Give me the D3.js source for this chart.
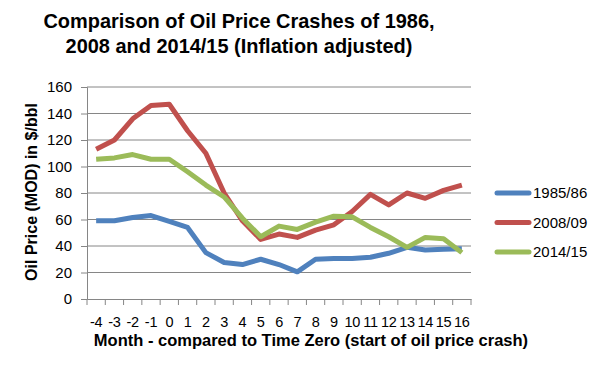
<!DOCTYPE html>
<html>
<head>
<meta charset="utf-8">
<script src="https://cdn.jsdelivr.net/npm/d3@7"></script>
<style>
  body { margin: 0; background: #fff; }
  svg { font-family: "Liberation Sans", Arial, sans-serif; }
</style>
</head>
<body>
<svg id="chart"></svg>
<script>
// data
const months = [-4, -3, -2, -1, 0, 1, 2, 3, 4, 5, 6, 7, 8, 9, 10, 11, 12, 13, 14, 15, 16];
const crash1986 = [59, 59, 61.5, 63, 58.5, 54, 35, 27.5, 26, 30, 26, 20.5, 30, 30.5, 30.5, 31.5, 34.5, 39, 37, 37.5, 38];
const crash2008 = [113, 120, 136, 146, 147, 127, 110, 80, 59, 45, 49, 46.5, 52, 56, 66, 79, 71, 80, 76, 82, 86];
const crash2014 = [105.5, 106.5, 109, 105.5, 105.5, 96, 86, 77, 61, 47, 55, 52.5, 58, 62.5, 62, 54, 47, 39, 46.5, 45.5, 35];
const seriesNames = ["1985/86", "2008/09", "2014/15"];
const seriesColors = ["#4f81bd", "#c0504d", "#9bbb59"];
const yTicks = [0, 20, 40, 60, 80, 100, 120, 140, 160];

const width = 607, height = 376;
const plot = { left: 87, right: 471, top: 87, bottom: 299 };

const svg = d3.select("#chart").attr("width", width).attr("height", height);

const x = d3.scaleBand().domain(months).range([plot.left, plot.right]);
const y = d3.scaleLinear().domain([0, 160]).range([plot.bottom, plot.top]);

// title
const title = svg.append("text")
  .attr("text-anchor", "middle")
  .attr("font-weight", "bold")
  .attr("font-size", "21px")
  .attr("transform", "translate(239,0) scale(0.95,1)")
  .attr("fill", "#000");
title.append("tspan").attr("x", 0).attr("y", 28).text("Comparison of Oil Price Crashes of 1986,");
title.append("tspan").attr("x", 0).attr("y", 53).text("2008 and 2014/15 (Inflation adjusted)");

// gridlines
svg.append("g")
  .selectAll("line")
  .data(yTicks.filter(d => d > 0))
  .join("line")
  .attr("x1", plot.left).attr("x2", plot.right)
  .attr("y1", d => y(d)).attr("y2", d => y(d))
  .attr("stroke", "#868686").attr("stroke-width", 1);

// y axis
const yAxis = svg.append("g")
  .attr("transform", `translate(${plot.left},0)`)
  .call(d3.axisLeft(y).tickValues(yTicks).tickSize(6).tickPadding(9));
yAxis.select(".domain").attr("stroke", "#868686");
yAxis.selectAll(".tick line").attr("stroke", "#868686");
yAxis.selectAll("text").attr("font-size", "15px").attr("fill", "#000")
  .attr("font-family", "'Liberation Sans', Arial, sans-serif");

// x axis
const xAxis = svg.append("g")
  .attr("transform", `translate(0,${plot.bottom})`)
  .call(d3.axisBottom(x).tickSize(0).tickPadding(18));
xAxis.select(".domain").attr("stroke", "#868686");
xAxis.selectAll("text").attr("font-size", "14.5px").attr("fill", "#000")
  .attr("letter-spacing", "-0.3px")
  .attr("font-family", "'Liberation Sans', Arial, sans-serif");
// category boundary ticks
svg.append("g")
  .selectAll("line")
  .data(months.concat([null]))
  .join("line")
  .attr("x1", (d, i) => plot.left + i * x.step())
  .attr("x2", (d, i) => plot.left + i * x.step())
  .attr("y1", plot.bottom).attr("y2", plot.bottom + 6)
  .attr("stroke", "#868686");

// axis titles
svg.append("text")
  .attr("x", 311).attr("y", 346)
  .attr("text-anchor", "middle")
  .attr("font-weight", "bold").attr("font-size", "16.5px")
  .text("Month - compared to Time Zero (start of oil price crash)");

svg.append("text")
  .attr("transform", "translate(37,192) rotate(-90)")
  .attr("text-anchor", "middle")
  .attr("font-weight", "bold").attr("font-size", "16px")
  .text("Oil Price (MOD) in $/bbl");

// lines
const line = d3.line()
  .x((d, i) => x(months[i]) + x.bandwidth() / 2)
  .y(d => y(d));

[crash1986, crash2008, crash2014].forEach((vals, k) => {
  svg.append("path")
    .datum(vals)
    .attr("d", line)
    .attr("fill", "none")
    .attr("stroke", seriesColors[k])
    .attr("stroke-width", 5)
    .attr("stroke-linejoin", "round");
});

// legend
const legend = svg.append("g")
  .selectAll("g")
  .data(seriesNames)
  .join("g")
  .attr("transform", (d, i) => `translate(497, ${193 + i * 29.5})`);

legend.append("line")
  .attr("x1", 0).attr("x2", 32)
  .attr("stroke", (d, i) => seriesColors[i])
  .attr("stroke-width", 5)
  .attr("stroke-linecap", "round");

legend.append("text")
  .attr("x", 36).attr("dy", "0.35em")
  .attr("font-size", "15px")
  .text(d => d);
</script>
</body>
</html>
